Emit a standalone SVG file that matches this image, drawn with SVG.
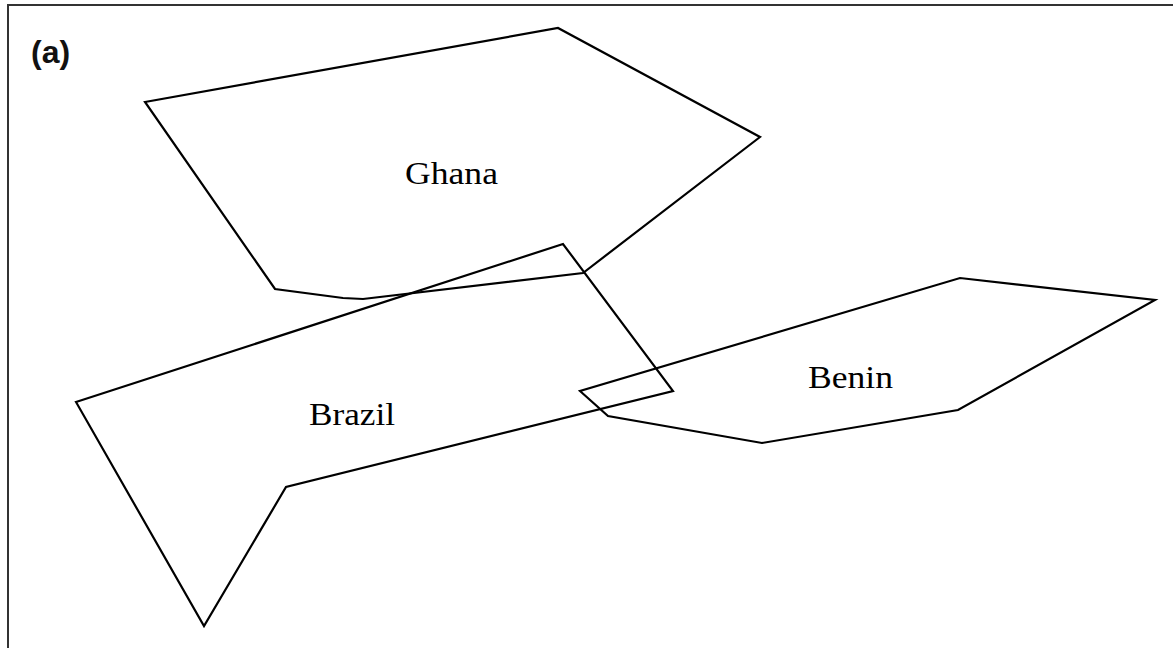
<svg xmlns="http://www.w3.org/2000/svg" width="1173" height="648" viewBox="0 0 1173 648">
  <style>
    .region { fill: none; stroke: #000; stroke-width: 2.2; stroke-linejoin: miter; }
    .name { font-family: "Liberation Serif", "Times New Roman", serif; font-size: 31px; fill: #000; }
    .panel { font-family: "Liberation Sans", Arial, sans-serif; font-size: 32px; font-weight: bold; fill: #111; }
    .frame { fill: none; stroke: #333; stroke-width: 2; }
  </style>
  <rect width="1173" height="648" fill="#fff"/>
  <!-- frame: top and left edges only -->
  <path class="frame" d="M8,648 V5 H1173"/>
  <text class="panel" x="31" y="63">(a)</text>

  <g id="ghana">
    <polygon class="region" points="145,102 558,28 760,137 583,273 363,299 343,298 275,289"/>
    <text class="name" x="405" y="184" textLength="93" lengthAdjust="spacingAndGlyphs">Ghana</text>
  </g>

  <g id="brazil">
    <polygon class="region" points="76,402 563,244 673,391 286,487 204,626"/>
    <text class="name" x="309" y="425" textLength="86" lengthAdjust="spacingAndGlyphs">Brazil</text>
  </g>

  <g id="benin">
    <polygon class="region" points="580,391 608,416 762,443 958,410 1155,300 960,278"/>
    <text class="name" x="808" y="388" textLength="85" lengthAdjust="spacingAndGlyphs">Benin</text>
  </g>
</svg>
